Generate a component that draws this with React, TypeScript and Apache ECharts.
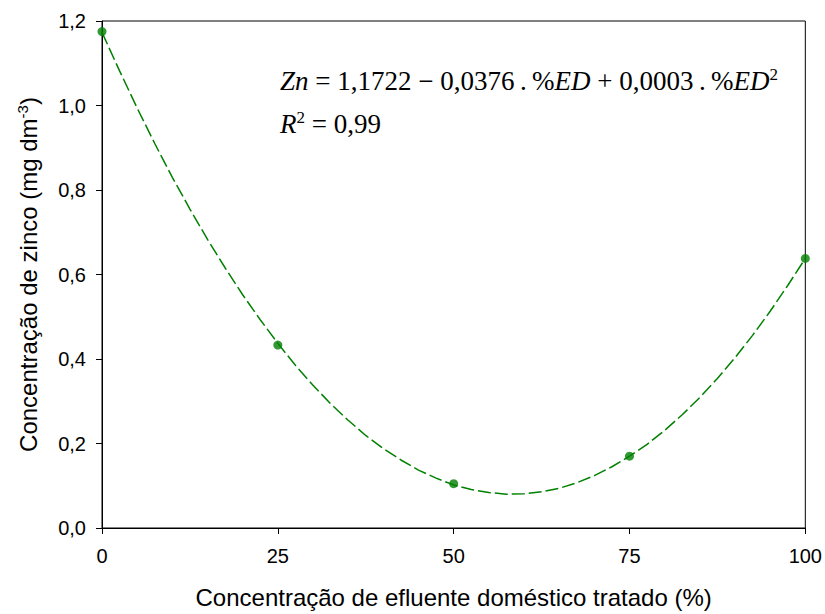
import React, { useEffect, useRef } from "react";
import * as echarts from "echarts";

const xValues = [0, 25, 50, 75, 100];
const zincValues = [1.175, 0.433, 0.105, 0.17, 0.638];
// Fitted curve, every 2.5 %
const curveX = [0, 2.5, 5, 7.5, 10, 12.5, 15, 17.5, 20, 22.5, 25, 27.5, 30, 32.5, 35, 37.5, 40, 42.5, 45, 47.5, 50, 52.5, 55, 57.5, 60, 62.5, 65, 67.5, 70, 72.5, 75, 77.5, 80, 82.5, 85, 87.5, 90, 92.5, 95, 97.5, 100];
const curveY = [1.173, 1.082, 0.994, 0.91, 0.83, 0.755, 0.683, 0.616, 0.552, 0.493, 0.437, 0.385, 0.338, 0.294, 0.255, 0.219, 0.188, 0.161, 0.137, 0.118, 0.102, 0.091, 0.084, 0.08, 0.081, 0.086, 0.094, 0.107, 0.124, 0.145, 0.17, 0.198, 0.231, 0.268, 0.309, 0.354, 0.403, 0.456, 0.513, 0.574, 0.638];
const xTicks = [0, 25, 50, 75, 100];
const yTickLabels = ["0,0", "0,2", "0,4", "0,6", "0,8", "1,0", "1,2"];

const GREEN = "#008000";
const SANS = "Liberation Sans, Arial, sans-serif";
const SERIF = "Liberation Serif, Times New Roman, serif";

export default function App() {
  const ref = useRef<HTMLDivElement>(null);
  useEffect(() => {
    document.body.style.margin = "0";
    if (!ref.current) return;
    const chart = echarts.init(ref.current, null, { renderer: "svg" });
    const eqRich = {
      n: { fontFamily: SERIF, fontSize: 27, color: "#000" },
      i: { fontFamily: SERIF, fontSize: 27, fontStyle: "italic", color: "#000" },
      s: { fontFamily: SERIF, fontSize: 17, color: "#000", verticalAlign: "top", lineHeight: 31 },
    };
    chart.setOption({
      animation: false,
      backgroundColor: "#fff",
      grid: { left: 102, top: 21, right: 18, bottom: 84, show: true, borderColor: "#000", borderWidth: 1, backgroundColor: "transparent" },
      xAxis: {
        type: "value",
        min: 0,
        max: 100,
        interval: 25,
        name: "Concentração de efluente doméstico tratado (%)",
        nameLocation: "middle",
        nameGap: 57,
        nameTextStyle: { fontFamily: SANS, fontSize: 24, color: "#000" },
        axisLine: { show: true, lineStyle: { color: "#000", width: 1 } },
        axisTick: { show: true, inside: false, length: 6, lineStyle: { color: "#000" } },
        axisLabel: {
          margin: 18,
          fontFamily: SANS,
          fontSize: 20,
          color: "#000",
          formatter: (v: number) => (xTicks.includes(v) ? String(v) : ""),
        },
        splitLine: { show: false },
      },
      yAxis: {
        type: "value",
        min: 0,
        max: 1.2,
        interval: 0.2,
        name: "{t|Concentração de zinco (mg dm}{s|-3}{t|)}",
        nameLocation: "middle",
        nameGap: 60,
        nameTextStyle: {
          rich: {
            t: { fontFamily: SANS, fontSize: 24, color: "#000" },
            s: { fontFamily: SANS, fontSize: 15, color: "#000", verticalAlign: "top", lineHeight: 27 },
          },
        },
        axisLine: { show: true, lineStyle: { color: "#000", width: 1 } },
        axisTick: { show: true, inside: false, length: 6, lineStyle: { color: "#000" } },
        axisLabel: {
          margin: 16,
          fontFamily: SANS,
          fontSize: 20,
          color: "#000",
          formatter: (v: number) => yTickLabels[Math.round(v / 0.2)] ?? "",
        },
        splitLine: { show: false },
      },
      series: [
        {
          type: "line",
          data: curveX.map((x, i) => [x, curveY[i]]),
          smooth: false,
          showSymbol: false,
          symbol: "none",
          lineStyle: { color: GREEN, width: 1.5, type: [13, 4] },
          silent: true,
          z: 2,
        },
        {
          type: "scatter",
          data: xValues.map((x, i) => [x, zincValues[i]]),
          symbol: "circle",
          symbolSize: 9,
          itemStyle: { color: GREEN },
          z: 3,
        },
      ],
      graphic: [
        {
          type: "text",
          x: 280,
          y: 81,
          style: {
            text: "{i|Zn}{n| = 1,1722 − 0,0376\u2009.\u2009%}{i|ED}{n| + 0,0003\u2009.\u2009%}{i|ED}{s|2}",
            rich: eqRich,
            verticalAlign: "middle",
          },
        },
        {
          type: "text",
          x: 280,
          y: 124,
          style: {
            text: "{i|R}{s|2}{n| = 0,99}",
            rich: eqRich,
            verticalAlign: "middle",
          },
        },
      ],
    });
    return () => chart.dispose();
  }, []);
  return <div ref={ref} style={{ width: 825, height: 614 }} />;
}
